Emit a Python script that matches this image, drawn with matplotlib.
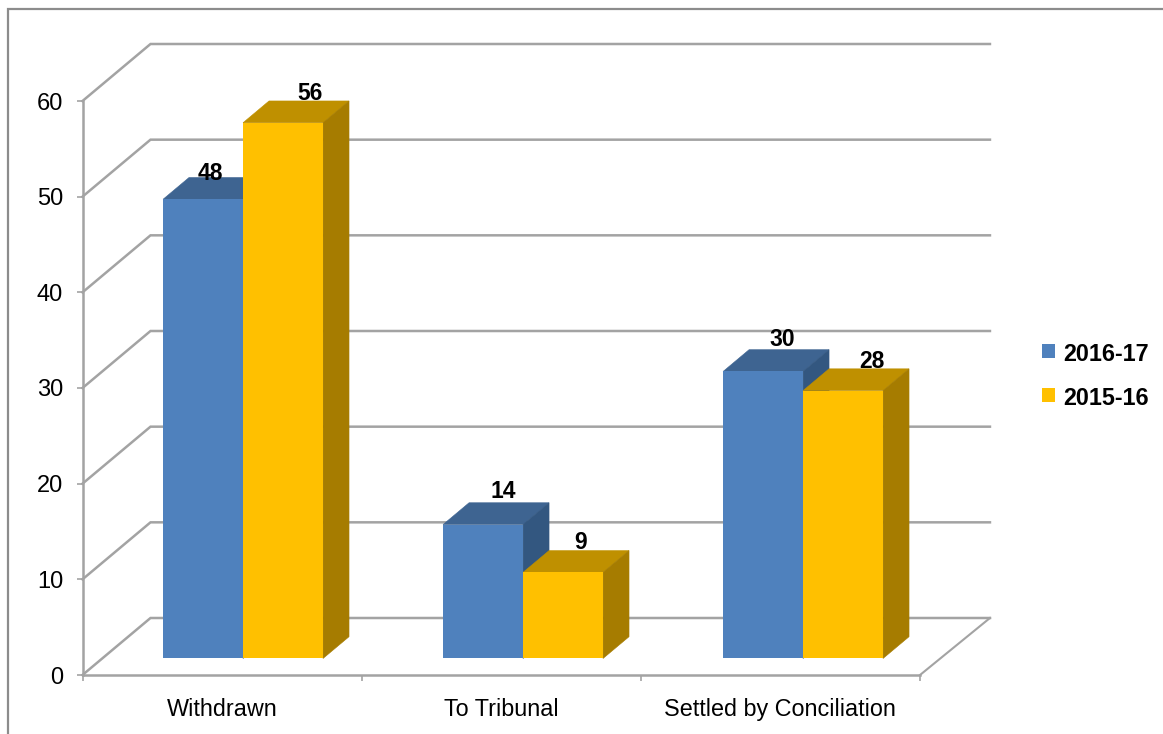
#!/usr/bin/env python3
"""Conciliation outcomes by year, drawn as a pseudo-3D clustered bar chart."""

import matplotlib
matplotlib.use('Agg')
import matplotlib.pyplot as plt
from matplotlib.lines import Line2D
from matplotlib.patches import Patch

categories = ['Withdrawn', 'To Tribunal', 'Settled by Conciliation']
series_names = ['2016-17', '2015-16']
values_2016 = [48, 14, 30]
values_2015 = [56, 9, 28]
y_ticks = [0, 10, 20, 30, 40, 50, 60]

# front, top, side shades per series
BLUE = ('#4f81bd', '#3e6491', '#335780')
GOLD = ('#ffc000', '#bf9000', '#a67c00')
GRID = '#a3a3a3'
FRAME = '#8c8c8c'

# Layout in pixels
W, H = 1163, 734
LEFT, RIGHT, BASE, TOP = 82.5, 920, 675, 101
X_UNIT = (RIGHT - LEFT) / 3
Y_UNIT = (BASE - TOP) / 60
DEPTH_X = 68 / X_UNIT   # full floor depth in data units
DEPTH_Y = 57 / Y_UNIT

BAR_WIDTH = 0.2865
GROUP_START = 0.218
GROUP_STEP = 1.003
BAR_FRONT = 0.29   # bars sit this far back on the floor
BAR_BACK = 0.672
WALL_END = 3.007   # back wall runs slightly past the last tick

# label shift from the bar's front-face centre, in pixels (right, up)
LABEL_SHIFT_2016 = [(7, 26), (20, 33), (19, 32)]
LABEL_SHIFT_2015 = [(27, 29), (18, 30), (29, 29)]


def shifted(x, y, d):
    """Move a point from the front plane back to floor depth d."""
    return x + d * DEPTH_X, y + d * DEPTH_Y


def draw_walls(ax):
    for v in y_ticks:
        x0, y0 = shifted(0, v, 0)
        x1, y1 = shifted(0, v, 1)
        x2, y2 = shifted(WALL_END, v, 1)
        ax.plot([x0, x1, x2], [y0, y1, y2], color=GRID, lw=1.8, clip_on=False,
                solid_joinstyle='miter', zorder=1)
    # right edge of the floor
    x1, y1 = shifted(WALL_END, 0, 1)
    ax.plot([3, x1], [0, y1], color=GRID, lw=1.5, clip_on=False, zorder=1)


def draw_bar(ax, x, value, shades):
    front, top, side = shades

    # top and side go first, thin same-colour edges close the seams between faces
    corners = [(x, BAR_FRONT), (x + BAR_WIDTH, BAR_FRONT),
               (x + BAR_WIDTH, BAR_BACK), (x, BAR_BACK)]
    top_pts = [shifted(cx, value, d) for cx, d in corners]
    ax.fill(*zip(*top_pts), facecolor=top, edgecolor=top, lw=0.4, clip_on=False, zorder=3)

    right = x + BAR_WIDTH
    side_pts = [shifted(right, 0, BAR_FRONT), shifted(right, 0, BAR_BACK),
                shifted(right, value, BAR_BACK), shifted(right, value, BAR_FRONT)]
    ax.fill(*zip(*side_pts), facecolor=side, edgecolor=side, lw=0.4, clip_on=False, zorder=3)

    fx, fy = shifted(x, 0, BAR_FRONT)
    ax.bar(fx, value, width=BAR_WIDTH, bottom=fy, align='edge', color=front,
           linewidth=0, clip_on=False, zorder=3)


def draw_label(ax, x, value, shift):
    cx, cy = shifted(x + BAR_WIDTH / 2, value, BAR_FRONT)
    ax.annotate(str(value), (cx, cy), xytext=(shift[0] * 0.72, shift[1] * 0.72),
                textcoords='offset points', ha='center', va='center',
                fontsize=16.5, fontweight='bold', color='black', zorder=5,
                annotation_clip=False)


def main():
    plt.rcParams['font.family'] = ['Liberation Sans', 'DejaVu Sans']

    fig = plt.figure(figsize=(W / 100, H / 100), dpi=100, facecolor='white')
    ax = fig.add_axes([LEFT / W, (H - BASE) / H, (RIGHT - LEFT) / W, (BASE - TOP) / H])
    ax.set_xlim(0, 3)
    ax.set_ylim(0, 60)
    ax.patch.set_visible(False)

    for name in ('top', 'right'):
        ax.spines[name].set_visible(False)
    for name in ('left', 'bottom'):
        ax.spines[name].set_color(GRID)
        ax.spines[name].set_linewidth(1.8)

    ax.set_yticks(y_ticks)
    ax.tick_params(axis='y', length=4, width=1.2, color=GRID, pad=10,
                   labelsize=17, labelcolor='black')
    ax.set_xticks([0, 1, 2, 3], labels=[])
    ax.tick_params(axis='x', which='major', length=4, width=1.2, color=GRID)
    ax.set_xticks([i + 0.5 for i in range(3)], labels=categories, minor=True)
    ax.tick_params(axis='x', which='minor', length=0, pad=16.5, labelsize=16.8,
                   labelcolor='black')

    draw_walls(ax)

    for i in range(len(categories)):
        x = i * GROUP_STEP + GROUP_START
        draw_bar(ax, x, values_2016[i], BLUE)
        draw_bar(ax, x + BAR_WIDTH, values_2015[i], GOLD)
        draw_label(ax, x, values_2016[i], LABEL_SHIFT_2016[i])
        draw_label(ax, x + BAR_WIDTH, values_2015[i], LABEL_SHIFT_2015[i])

    handles = [Patch(color=BLUE[0], lw=0, label=series_names[0]),
               Patch(color=GOLD[0], lw=0, label=series_names[1])]
    legend = fig.legend(handles=handles, loc='upper left',
                        bbox_to_anchor=(1042 / W, (H - 341) / H), frameon=False,
                        prop={'size': 16.8, 'weight': 'bold'}, borderpad=0, borderaxespad=0,
                        handlelength=0.56, handleheight=0.54, handletextpad=0.33,
                        labelspacing=0.92)
    # legend text sits a little lower than its swatch
    for text in legend.get_texts():
        text.set_position((0, -2))

    # outer chart border, open on the right and bottom
    fig.add_artist(Line2D([8 / W, 8 / W, 1], [1 / H, (H - 9) / H, (H - 9) / H],
                          color=FRAME, lw=1.6, solid_joinstyle='miter'))

    fig.savefig('out.png', dpi=100)


if __name__ == "__main__":
    main()
